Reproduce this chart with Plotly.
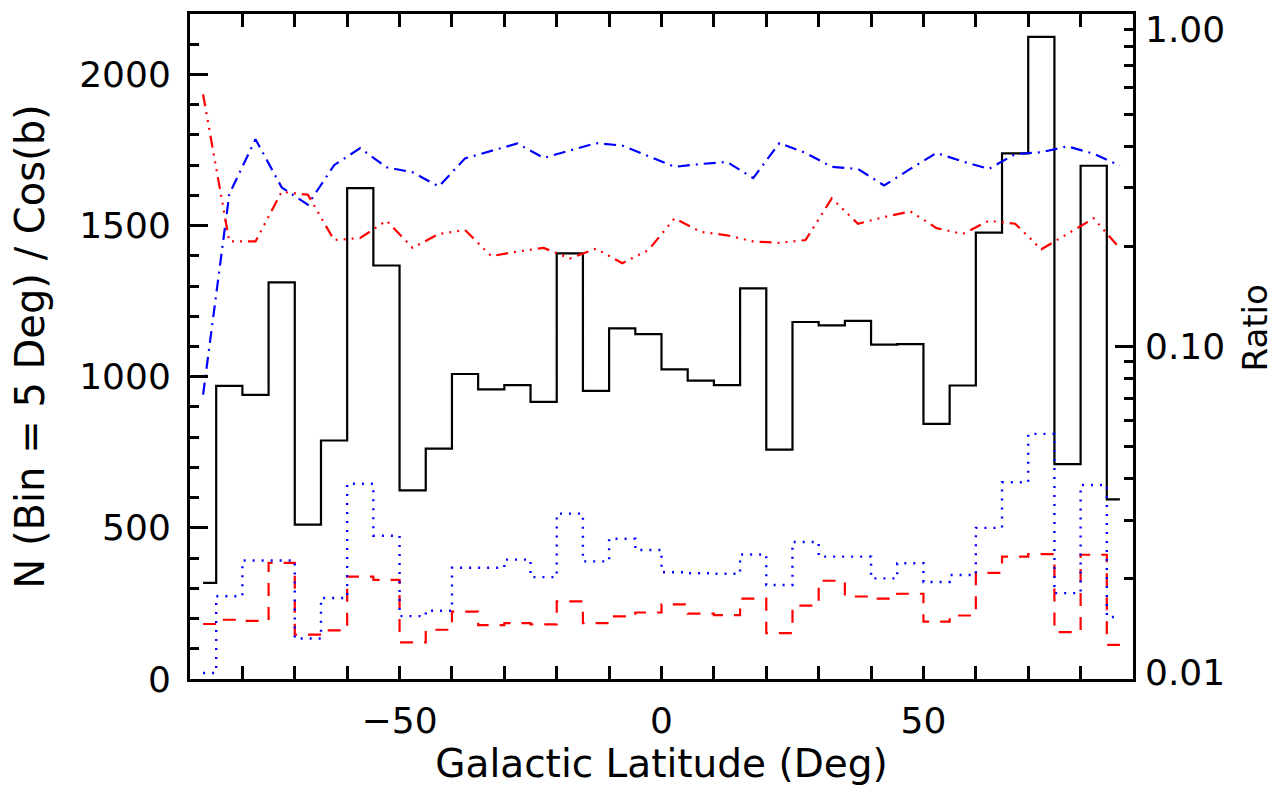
import math
import plotly.graph_objects as go

# Bin centres (Galactic latitude, deg)
LAT = [-87.5, -82.5, -77.5, -72.5, -67.5, -62.5, -57.5, -52.5, -47.5, -42.5,
       -37.5, -32.5, -27.5, -22.5, -17.5, -12.5, -7.5, -2.5, 2.5, 7.5,
       12.5, 17.5, 22.5, 27.5, 32.5, 37.5, 42.5, 47.5, 52.5, 57.5,
       62.5, 67.5, 72.5, 77.5, 82.5, 87.5]

# Histograms (left axis): N per 5-deg bin / cos(b)
N_ALL = [318, 970, 940, 1312, 511, 789, 1624, 1368, 624, 762,
         1009, 958, 972, 917, 1408, 953, 1160, 1141, 1024, 987,
         972, 1292, 759, 1181, 1170, 1185, 1106, 1108, 844, 971,
         1477, 1739, 2124, 711, 1698, 594]
N_RED = [182, 196, 192, 384, 147, 161, 339, 328, 121, 163,
         223, 178, 185, 181, 257, 185, 207, 220, 247, 216,
         211, 266, 152, 243, 325, 273, 266, 282, 190, 210,
         351, 405, 413, 155, 411, 113]
N_BLUE = [20, 274, 392, 392, 134, 268, 646, 474, 208, 226,
          368, 368, 395, 337, 547, 389, 464, 427, 353, 350,
          348, 412, 311, 453, 405, 405, 333, 383, 321, 344,
          500, 651, 811, 284, 642, 205]

# Ratios (right, log axis)
RATIO_BLUE = [0.0717, 0.287, 0.420, 0.301, 0.267, 0.351, 0.395, 0.346, 0.334, 0.303,
              0.368, 0.387, 0.408, 0.369, 0.389, 0.409, 0.402, 0.373, 0.347, 0.354,
              0.359, 0.321, 0.409, 0.382, 0.347, 0.342, 0.305, 0.342, 0.382, 0.360,
              0.342, 0.379, 0.384, 0.400, 0.380, 0.350]
RATIO_RED = [0.573, 0.207, 0.207, 0.292, 0.286, 0.209, 0.212, 0.239, 0.198, 0.218,
             0.224, 0.187, 0.193, 0.198, 0.184, 0.197, 0.178, 0.195, 0.243, 0.221,
             0.216, 0.207, 0.205, 0.209, 0.279, 0.234, 0.245, 0.255, 0.227, 0.218,
             0.239, 0.234, 0.196, 0.218, 0.243, 0.197]

X_TICKS = [-50, 0, 50]
X_MINOR = [-80, -70, -60, -40, -30, -20, -10, 10, 20, 30, 40, 60, 70, 80]
Y_TICKS = [0, 500, 1000, 1500, 2000]
Y_MINOR = [100, 200, 300, 400, 600, 700, 800, 900, 1100, 1200, 1300, 1400,
           1600, 1700, 1800, 1900, 2100]
Y2_TICKS = [0.01, 0.1, 1.0]
Y2_TEXT = ["0.01", "0.10", "1.00"]
Y2_MINOR = [0.02, 0.03, 0.04, 0.05, 0.06, 0.07, 0.08, 0.09,
            0.2, 0.3, 0.4, 0.5, 0.6, 0.7, 0.8, 0.9]

FONT = "DejaVu Sans"
TICKFONT = dict(family=FONT, size=36, color="black")

fig = go.Figure()
fig.add_trace(go.Scatter(x=LAT, y=N_ALL, mode="lines", showlegend=False,
                         line=dict(shape="hvh", color="black", width=2.2)))
fig.add_trace(go.Scatter(x=LAT, y=N_RED, mode="lines", showlegend=False,
                         line=dict(shape="hvh", color="red", width=2.2, dash="13px,11px")))
fig.add_trace(go.Scatter(x=LAT, y=N_BLUE, mode="lines", showlegend=False,
                         line=dict(shape="hvh", color="blue", width=2.4, dash="2px,7px")))
fig.add_trace(go.Scatter(x=LAT, y=RATIO_BLUE, mode="lines", yaxis="y2", showlegend=False,
                         line=dict(color="blue", width=2.2, dash="12px,6px,2px,6px")))
fig.add_trace(go.Scatter(x=LAT, y=RATIO_RED, mode="lines", yaxis="y2", showlegend=False,
                         line=dict(color="red", width=2.2,
                                   dash="12px,6px,2px,6px,2px,6px,2px,6px")))

annos = []
shifts = [7, 0, -15]
for v, t, s in zip(Y2_TICKS, Y2_TEXT, shifts):
    annos.append(dict(x=1, xref="paper", y=math.log10(v), yref="y2", text=t,
                      showarrow=False, xanchor="left", yanchor="middle",
                      xshift=10, yshift=s, font=TICKFONT))
# right-axis title
annos.append(dict(x=1, xref="paper", y=0.5, yref="paper", text="Ratio",
                  textangle=-90, showarrow=False, xanchor="center", yanchor="middle",
                  xshift=121, yshift=18, font=dict(family=FONT, size=34, color="black")))

fig.update_layout(
    width=1280, height=794,
    margin=dict(l=190, r=147, t=11, b=115),
    paper_bgcolor="white", plot_bgcolor="white",
    font=dict(family=FONT, size=36, color="black"),
    annotations=annos,
    xaxis=dict(range=[-90, 90], tickmode="array", tickvals=X_TICKS,
               ticks="inside", ticklen=13, tickwidth=3, tickcolor="black",
               tickfont=TICKFONT,
               minor=dict(tickmode="array", tickvals=X_MINOR, ticks="inside",
                          ticklen=6, tickwidth=3, tickcolor="black"),
               showline=True, linewidth=3, linecolor="black", mirror="allticks",
               showgrid=False, zeroline=False, ticklabelstandoff=8,
               title=dict(text="Galactic Latitude (Deg)", standoff=8,
                          font=dict(family=FONT, size=39, color="black"))),
    yaxis=dict(range=[0, 2200], tickmode="array", tickvals=Y_TICKS,
               ticks="inside", ticklen=18, tickwidth=3, tickcolor="black",
               tickfont=TICKFONT,
               minor=dict(tickmode="array", tickvals=Y_MINOR, ticks="inside",
                          ticklen=9, tickwidth=3, tickcolor="black"),
               showline=True, linewidth=3, linecolor="black",
               showgrid=False, zeroline=False, ticklabelstandoff=9,
               title=dict(text="N (Bin = 5 Deg) / Cos(b)", standoff=23,
                          font=dict(family=FONT, size=40, color="black"))),
    yaxis2=dict(overlaying="y", side="right", type="log", range=[-2, 0],
                tickmode="array", tickvals=Y2_TICKS, showticklabels=False,
                ticks="inside", ticklen=18, tickwidth=3, tickcolor="black",
                minor=dict(tickmode="array", tickvals=Y2_MINOR, ticks="inside",
                           ticklen=9, tickwidth=3, tickcolor="black"),
                showline=True, linewidth=3, linecolor="black",
                showgrid=False, zeroline=False),
)

fig.write_html("out.html")
